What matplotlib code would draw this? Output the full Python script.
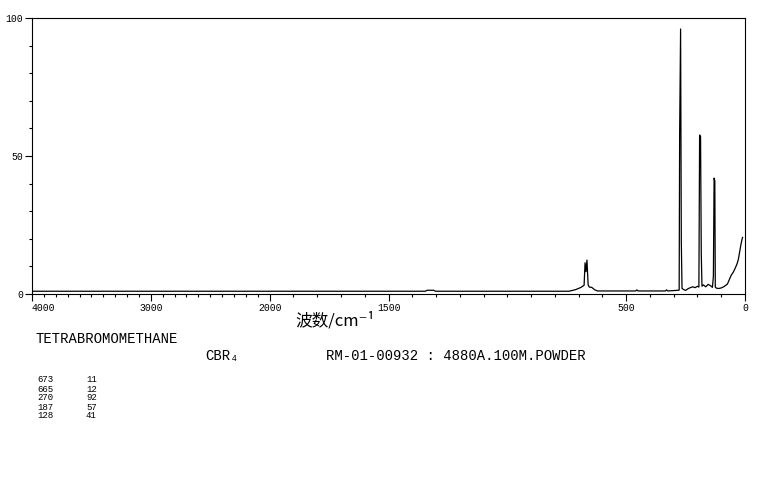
import numpy as np
import matplotlib
matplotlib.use('Agg')
import matplotlib.pyplot as plt

# Raman spectrum of CBr4
wavenumber = [4000, 1345, 1338, 1310, 1302, 740, 712, 690, 680, 677, 673, 669,
              665, 660, 655, 645, 632, 620, 460, 455, 450, 335, 330, 325, 290,
              277, 275, 271, 268, 265, 258, 250, 240, 230, 220, 210, 200, 194,
              191, 187, 184, 181, 175, 165, 155, 145, 137, 133, 130, 127, 125,
              120, 110, 100, 90, 80, 74, 66, 58, 50, 42, 34, 28, 22, 17, 12, 10]
intensity = [1.0, 1.0, 1.35, 1.35, 1.0, 1.0, 1.6, 2.4, 3.0, 3.2, 11.3, 8.1,
             12.3, 3.3, 2.5, 2.4, 1.5, 1.1, 1.1, 1.5, 1.1, 1.1, 1.5, 1.1, 1.3,
             1.4, 58, 96, 19, 2.0, 1.6, 1.3, 1.9, 2.3, 2.6, 2.3, 2.8, 2.5,
             57.6, 57, 14.5, 2.8, 3.3, 2.6, 3.5, 3.0, 2.4, 6.5, 42, 41, 2.5,
             2.1, 2.0, 2.2, 2.6, 3.2, 3.6, 5.2, 6.8, 7.8, 9.2, 10.8, 12.5,
             15.5, 18, 20, 20.5]

x_major = [4000, 3000, 2000, 1500, 500, 0]
x_labels = ['4000', '3000', '2000', '1500', '500', '0']
y_major = [0, 50, 100]

compound = 'TETRABROMOMETHANE'
formula = 'CBR\u2084'
sample_info = 'RM-01-00932 : 4880A.100M.POWDER'
peak_pos = ['673', '665', '270', '187', '128']
peak_int = ['11', '12', '92', '57', '41']

MONO = ['Liberation Mono', 'DejaVu Sans Mono', 'DejaVu Sans']


# two-speed wavenumber axis: 4000-2000 compressed, 2000-0 doubled
def fwd(w):
    w = np.asarray(w, dtype=float)
    return np.where(w <= 2000, 2 * w, w + 2000)


def inv(u):
    u = np.asarray(u, dtype=float)
    return np.where(u <= 4000, u / 2, u - 2000)


fig = plt.figure(figsize=(7.61, 4.78), dpi=100)
ax = fig.add_axes([32 / 761, (478 - 294) / 478, (745 - 32) / 761, (294 - 18) / 478])

ax.plot(wavenumber, intensity, color='black', lw=0.9)

ax.set_xscale('function', functions=(fwd, inv))
ax.set_xlim(4000, 0)
ax.set_ylim(0, 100)

ax.set_xticks(x_major)
ax.set_xticklabels(x_labels)
ax.set_xticks([w for w in range(100, 4000, 100) if w not in x_major], minor=True)
ax.set_yticks(y_major)
ax.set_yticklabels([str(v) for v in y_major])
ax.set_yticks(range(10, 100, 10), minor=True)

ax.tick_params(axis='x', which='major', direction='out', length=5, width=0.8, pad=1.5)
ax.tick_params(axis='x', which='minor', direction='out', length=2.2, width=0.8)
ax.tick_params(axis='y', which='major', direction='out', length=5, width=0.8, pad=1.5)
ax.tick_params(axis='y', which='minor', direction='out', length=2.2, width=0.8)
for lab in ax.get_xticklabels() + ax.get_yticklabels():
    lab.set_family(MONO)
    lab.set_fontsize(7)
ax.get_xticklabels()[0].set_horizontalalignment('left')

for s in ax.spines.values():
    s.set_linewidth(0.8)

fig.text(295 / 761, 1 - 321 / 478, '波数/cm\u207b\u00b9', fontsize=12,
         family=['Noto Sans CJK SC', 'DejaVu Sans'], va='center', ha='left')

fig.text(35 / 761, 1 - 339 / 478, compound, family=MONO, fontsize=10, va='center')
fig.text(205 / 761, 1 - 356 / 478, formula, family=MONO, fontsize=10, va='center')
fig.text(326 / 761, 1 - 356 / 478, sample_info, family=MONO, fontsize=10, va='center')

for i, (p, v) in enumerate(zip(peak_pos, peak_int)):
    yy = 1 - (380 + 9 * i) / 478
    fig.text(37 / 761, yy, p, family=MONO, fontsize=6.5, va='center')
    fig.text(86 / 761, yy, v, family=MONO, fontsize=6.5, va='center')

fig.savefig('out.png', dpi=100)
